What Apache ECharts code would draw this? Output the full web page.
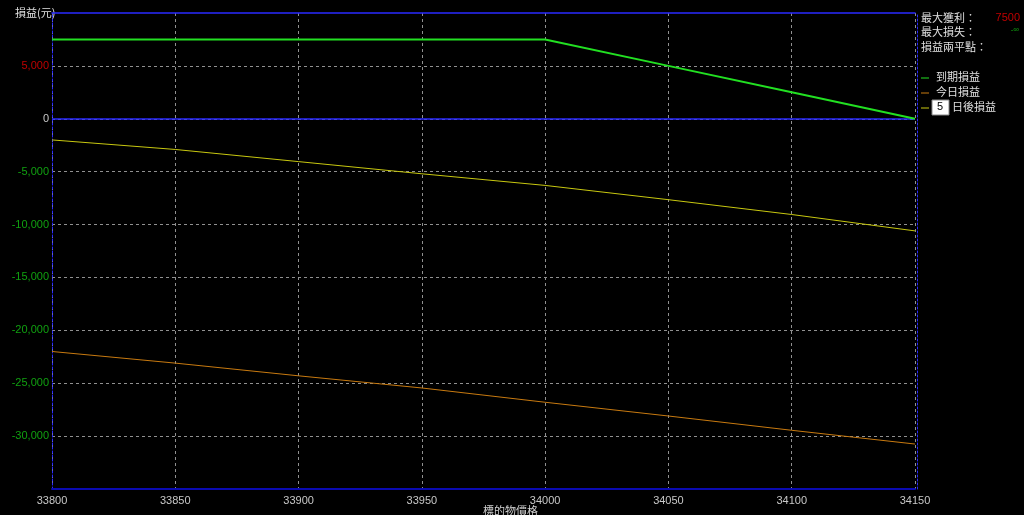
<!DOCTYPE html>
<html><head><meta charset="utf-8">
<script src="https://cdn.jsdelivr.net/npm/echarts@6/dist/echarts.min.js"></script>
<style>html,body{margin:0;padding:0;background:#000;}#c{width:1024px;height:515px;}</style>
</head><body><div id="c"></div>
<script>
const prices = [33800, 33850, 33900, 33950, 34000, 34050, 34100, 34150];
const expiryPL = [7500, 7500, 7500, 7500, 7500, 5000, 2500, 0];
const todayPL = [-22000, -23100, -24300, -25450, -26800, -28100, -29450, -30750];
const day5PL = [-2000, -2900, -4050, -5200, -6300, -7650, -9050, -10600];
const seriesNames = ['到期損益', '今日損益', '日後損益'];
const daysAhead = '5';
const infoLabels = ['最大獲利：', '最大損失：', '損益兩平點：'];
const infoValues = ['7500', '-∞', ''];
const yTitle = '損益(元)';
const xTitle = '標的物價格';

const colors = ['#22e022', '#c87a10', '#c8c810'];
const pair = (arr) => prices.map((p, i) => [p, arr[i]]);
const cjk = '"Noto Sans CJK TC", "Noto Sans CJK SC", sans-serif';
const num = '"Liberation Sans", Arial, sans-serif';

const chart = echarts.init(document.getElementById('c'));
const fmt = v => {
  const s = Math.abs(v).toString().replace(/\B(?=(\d{3})+(?!\d))/g, ',');
  return (v < 0 ? '-' : '') + s;
};
const legendY = [78, 93, 108];
const graphics = [];
infoLabels.forEach((t, i) => {
  graphics.push({type: 'text', left: 921, top: 12 + i * 14.5, style: {text: t, fill: '#e0e0e0', font: '11px ' + cjk}});
});
graphics.push({type: 'text', right: 4, top: 12, style: {text: infoValues[0], fill: '#c00000', font: '11px ' + num, textAlign: 'right'}});
graphics.push({type: 'text', right: 5, top: 26, style: {text: infoValues[1], fill: '#10a010', font: '8px ' + num}});
seriesNames.forEach((n, i) => {
  graphics.push({type: 'line', shape: {x1: 921, y1: legendY[i], x2: 929, y2: legendY[i]}, style: {stroke: colors[i], lineWidth: 1}});
});
graphics.push({type: 'text', left: 936, top: legendY[0] - 7, style: {text: seriesNames[0], fill: '#e0e0e0', font: '11px ' + cjk}});
graphics.push({type: 'text', left: 936, top: legendY[1] - 7, style: {text: '今日損益', fill: '#e0e0e0', font: '11px ' + cjk}});
graphics.push({type: 'rect', shape: {x: 932, y: legendY[2] - 8, width: 17, height: 15}, style: {fill: '#fff', stroke: '#888'}});
graphics.push({type: 'text', left: 937, top: legendY[2] - 7, style: {text: daysAhead, fill: '#000', font: '11px ' + num}});
graphics.push({type: 'text', left: 952, top: legendY[2] - 7, style: {text: seriesNames[2], fill: '#e0e0e0', font: '11px ' + cjk}});
graphics.push({type: 'text', left: 15, top: 7, style: {text: yTitle, fill: '#e0e0e0', font: '11px ' + cjk}});
graphics.push({type: 'text', left: 483, top: 505, style: {text: xTitle, fill: '#d0d0d0', font: '11px ' + cjk, textAlign: 'center'}});

const option = {
  backgroundColor: '#000',
  animation: false,
  grid: {left: 52, right: 109, top: 13, bottom: 26},
  xAxis: [{
    type: 'value', min: 33800, max: 34150, interval: 50,
    axisLine: {onZero: false, lineStyle: {color: '#0a0ab0', width: 2}},
    axisTick: {show: false},
    axisLabel: {color: '#c8c8c8', fontSize: 11, fontFamily: num, margin: 6, formatter: v => String(v)},
    splitLine: {show: true, lineStyle: {color: '#909090', type: [3, 3], width: 1}},
    z: 5
  }, {
    type: 'value', position: 'top', min: 33800, max: 34150, interval: 50,
    axisLine: {show: true, onZero: false, lineStyle: {color: '#2a2aff', width: 1.5}},
    axisTick: {show: false}, axisLabel: {show: false}, splitLine: {show: false},
    z: 20
  }],
  yAxis: [{
    type: 'value', min: -35000, max: 10000, interval: 5000,
    axisLine: {show: true, onZero: false, lineStyle: {color: '#2a2aff', type: [2, 2], width: 1}},
    axisTick: {show: false},
    axisLabel: {
      fontSize: 11, fontFamily: num, margin: 3,
      showMinLabel: false, showMaxLabel: false,
      formatter: v => fmt(v),
      color: v => (v > 0 ? '#c00000' : (v < 0 ? '#10a010' : '#c8c8c8'))
    },
    splitLine: {show: true, showMaxLine: false, lineStyle: {color: '#909090', type: [3, 3], width: 1}},
    z: 5
  }, {
    type: 'value', position: 'right', offset: 2, min: -35000, max: 10000, interval: 5000,
    axisLine: {show: true, onZero: false, lineStyle: {color: '#2a2aff', type: [2, 2], width: 1}},
    axisTick: {show: false}, axisLabel: {show: false}, splitLine: {show: false},
    z: 12
  }],
  series: [
    {name: seriesNames[1], type: 'line', data: pair(todayPL), symbol: 'none', lineStyle: {color: colors[1], width: 1}, z: 8},
    {name: seriesNames[2], type: 'line', data: pair(day5PL), symbol: 'none', lineStyle: {color: colors[2], width: 1}, z: 10,
     markLine: {silent: true, z: 20, symbol: 'none', label: {show: false}, lineStyle: {color: '#2a2aff', type: 'solid', width: 1.5, opacity: 1}, data: [{yAxis: 0}]}},
    {name: seriesNames[0], type: 'line', data: pair(expiryPL), symbol: 'none', lineStyle: {color: colors[0], width: 2}, z: 25}
  ],
  graphic: graphics
};
chart.setOption(option);
</script></body></html>
